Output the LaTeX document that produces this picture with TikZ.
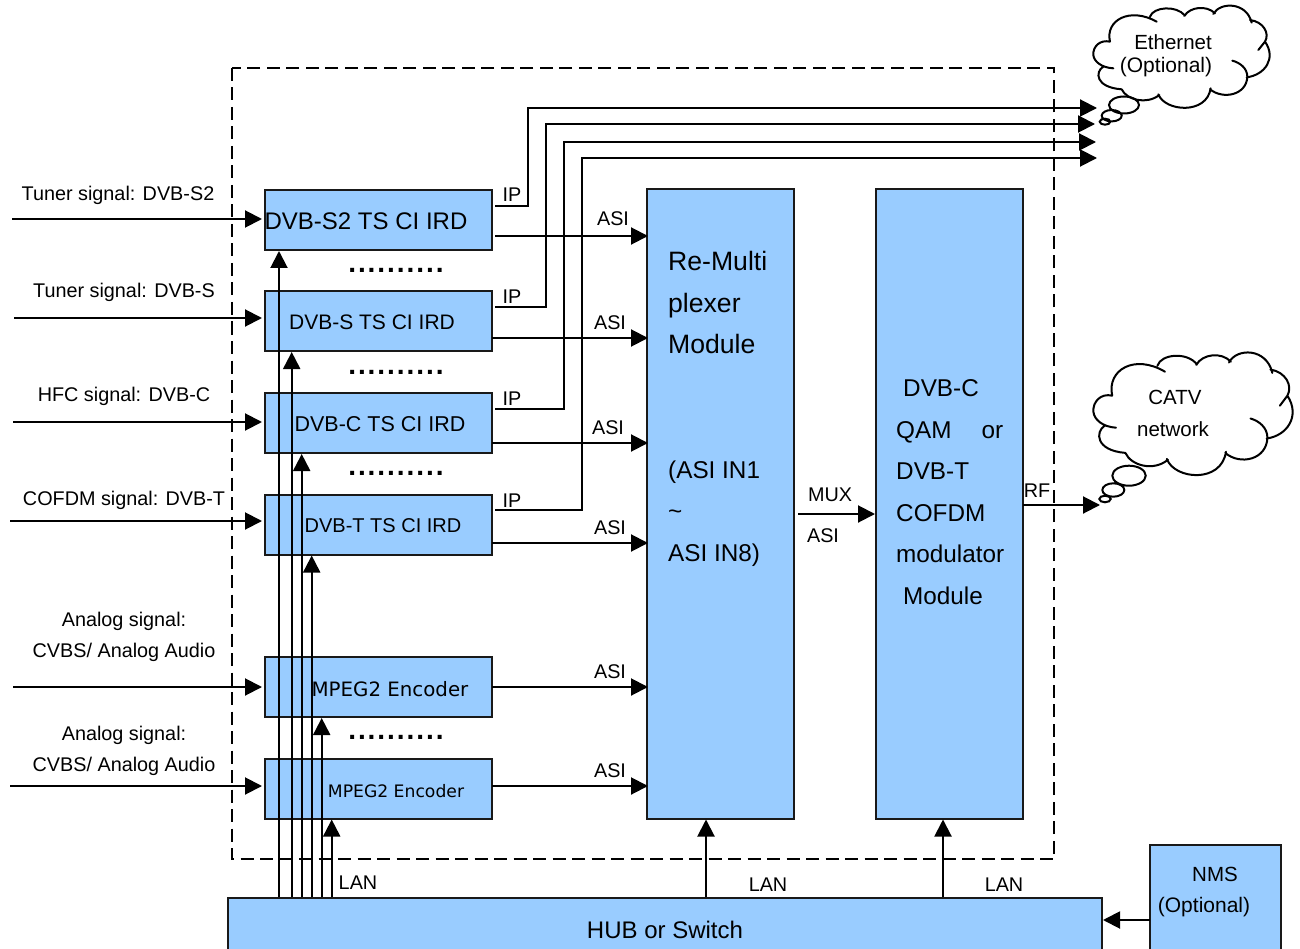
\documentclass[tikz,border=0pt]{standalone}
\usepackage{fontspec}
\setmainfont{Liberation Sans}
\newfontfamily\verafont{DejaVu Sans}
\usetikzlibrary{arrows.meta}
\definecolor{boxblue}{HTML}{99CCFF}
\newcommand{\fs}[2][24]{\fontsize{#2}{#1}\selectfont}
\tikzset{
 wolke/.pic={
  \draw[line width=2pt,line cap=round]
   (180,125) .. controls (150,118) and (128,140) .. (130,165) .. controls (132,185) and (155,203) .. (190,205)
   (160,200) .. controls (135,215) and (135,262) .. (215,268)
   (215,268) .. controls (230,300) and (290,315) .. (328,285)
   (325,283) .. controls (345,335) and (470,345) .. (482,265)
   (480,268) .. controls (520,300) and (590,285) .. (592,230) .. controls (592,205) and (570,188) .. (547,182)
   (590,232) .. controls (645,225) and (680,175) .. (645,125) -- (625,150)
   (645,125) .. controls (660,100) and (640,65) .. (600,60)
   (605,68) .. controls (590,5) and (510,5) .. (490,42)
   (495,40) .. controls (470,15) and (420,20) .. (403,48)
   (405,47) .. controls (380,15) and (310,20) .. (300,50)
   (320,65) .. controls (240,20) and (165,60) .. (180,125);
 },
 lane/.style={line width=2pt,-{Triangle[length=17pt,width=17pt]}},
 bluebox/.style={draw=black!90,line width=2pt,fill=boxblue,inner sep=0pt},
 ird/.style={bluebox,minimum width=227pt,minimum height=60pt},
 tall/.style={bluebox,minimum width=147pt,minimum height=629pt},
 txt/.style={inner sep=0pt,align=center,font=\fs{19.8}},
}
\begin{document}
\begin{tikzpicture}[x=1pt,y=-1pt]
\useasboundingbox (0,0) rectangle (1300,949);
% dashed frame
\draw[line width=2pt,dash pattern=on 13pt off 6.5pt] (232,68) rectangle (1054,859);
% modules
\node[ird] (s2box) at (378.5,220) {};
\node[ird] (sbox) at (378.5,321) {};
\node[ird] (cbox) at (378.5,423) {};
\node[ird] (tbox) at (378.5,524.5) {};
\node[ird] (encA) at (378.5,687) {};
\node[ird] (encB) at (378.5,788.5) {};
\node[tall] (remux) at (720.5,504) {};
\node[tall] (modu) at (949.5,504) {};
\node[bluebox,minimum width=874pt,minimum height=60pt] (hub) at (665,928) {};
\node[bluebox,minimum width=131pt,minimum height=120pt] (nms) at (1215.5,905) {};
% clouds
\pic at (0,0) [shift={(1050,0)},xscale=.3333,yscale=.3333] {wolke};
\pic at (0,0) [shift={(1044.4,345.7)},xscale=.3767,yscale=.4] {wolke};
\draw[line width=2pt] (1124,105) ellipse (15 and 8.5) (1111.7,115.7) ellipse (10 and 5.7) (1105,121.7) ellipse (5.3 and 3);
\draw[line width=2pt] (1129,475.7) ellipse (16.7 and 10) (1113.3,490) ellipse (11 and 6.7) (1105,499) ellipse (5.7 and 3.3);
% inputs
\foreach \x/\y/\t in {12/219/s2box,14/318/sbox,13/422/cbox,10/521/tbox,13/687/encA,10/786/encB}{
 \coordinate (in\t) at (\x,\y);
 \draw[lane,shorten >=2pt] (in\t) -- (in\t -| \t.west);
}
% asi out
\foreach \x/\y/\t in {495/236/s2box,492/338/sbox,492/443/cbox,492/543/tbox,492/687/encA,492/786/encB}{
 \coordinate (asi\t) at (\x,\y);
 \draw[lane,shorten >=-2pt] (asi\t) -- (asi\t -| remux.west);
}
% ip out
\coordinate (ipA) at (1097,108);\coordinate (ipB) at (1095,124);
\coordinate (ipC) at (1096,142);\coordinate (ipD) at (1097,158);
\coordinate (tapA) at (495,206);\coordinate (tapB) at (495,307);
\coordinate (tapC) at (495,409);\coordinate (tapD) at (495,510);
\draw[lane] (tapA) -- (527.5,206) -- (527.5,108) -- (ipA);
\draw[lane] (tapB) -- (546,307) -- (546,124) -- (ipB);
\draw[lane] (tapC) -- (564,409) -- (564,142) -- (ipC);
\draw[lane] (tapD) -- (582,510) -- (582,158) -- (ipD);
% lan risers
\foreach \x/\t in {279/s2box,291.7/sbox,301.7/cbox,311.7/tbox,321.7/encA,331.7/encB,706/remux,943/modu}{
 \draw[lane] (\x,0 |- hub.north) -- (\x,0 |- \t.south);
}
\coordinate (muxA) at (798,514);
\draw[lane] (muxA) -- (muxA -| modu.west);
\coordinate (rfA) at (1023,505);\coordinate (rfB) at (1100,505);
\draw[lane] (rfA) -- (rfB);
\coordinate (nmsA) at (1150,920);
\draw[lane] (nmsA) -- (nmsA -| hub.east);
% texts
\node[txt] (tS2) at (118,195.5) {Tuner signal: DVB-S2};
\node[txt] (tS) at (124,292.5) {Tuner signal: DVB-S};
\node[txt] (tC) at (124,396.5) {HFC signal: DVB-C};
\node[txt] (tT) at (124,500.5) {COFDM signal: DVB-T};
\node[txt,font={\fs[30.5]{19.8}}] (tA) at (124,637) {Analog signal:\\CVBS/ Analog Audio};
\node[txt,font={\fs[30.5]{19.8}}] (tB) at (124,751) {Analog signal:\\CVBS/ Analog Audio};
\node[txt,font=\fs{24}] (lS2) at (366,221) {DVB-S2 TS CI IRD};
\node[txt,font=\fs{21}] (lS) at (372,322) {DVB-S TS CI IRD};
\node[txt,font=\fs{21.5}] (lC) at (380,424) {DVB-C TS CI IRD};
\node[txt,font=\fs{20}] (lT) at (383,526) {DVB-T TS CI IRD};
\node[txt,font=\verafont\fs{19.8}] (lA) at (390,689) {MPEG2 Encoder};
\node[txt,font=\verafont\fs{17.2}] (lB) at (396,791) {MPEG2 Encoder};
\foreach \x/\y/\t in {396/270/dotA,396/372/dotB,396/473/dotC,396/737/dotD}{
 \node[txt,font={\bfseries\fs{28}\addfontfeature{LetterSpace=7}}] (\t) at (\x,\y) {..........};
}
\foreach \y/\t in {195/ipa,297/ipb,399/ipc,501/ipd}{
 \node[txt] (\t) at (512,\y) {IP};
}
\foreach \x/\y/\t in {613/219/asa,610/323/asb,608/428/asc,610/528/asd,610/672/ase,610/771/asf,823/536/asg}{
 \node[txt] (\t) at (\x,\y) {ASI};
}
\node[txt] (mux) at (830,495) {MUX};
\node[txt] (rf) at (1037,491) {RF};
\node[txt] (lanA) at (358,883) {LAN};
\node[txt] (lanB) at (768,885) {LAN};
\node[txt] (lanC) at (1004,885) {LAN};
\node[txt,font=\fs{24}] (hubT) at (665,930) {HUB or Switch};
\node[txt,font=\fs{20.5}] (nmsT) at (1215,874) {NMS};
\node[txt,font=\fs{21}] (nmsO) at (1204,907) {(Optional)};
\node[txt,font=\fs{20.5}] (ethT) at (1173,42) {Ethernet};
\node[txt,font=\fs{21}] (ethO) at (1166,67) {(Optional)};
\node[txt,font=\fs{20.5}] (catvT) at (1175,397) {CATV};
\node[txt,font=\fs{20.5}] (catvN) at (1173,429) {network};
\node[txt,align=left,font={\fs[41.5]{26.6}},anchor=west] (remuxT) at (668,409) {Re-Multi\\plexer\\Module\\[83pt]\fs[41.5]{24.3}(ASI IN1\\\fs[41.5]{24.3}\textasciitilde\\\fs[41.5]{24.3}ASI IN8)};
\node[txt,align=left,text width=107pt,font={\fs[41.5]{24.3}},anchor=west] (moduT) at (896,492) {\hspace*{7pt}DVB-C\\QAM\hfill or\\DVB-T\\COFDM\\modulator\\\hspace*{7pt}Module};
\end{tikzpicture}
\end{document}
